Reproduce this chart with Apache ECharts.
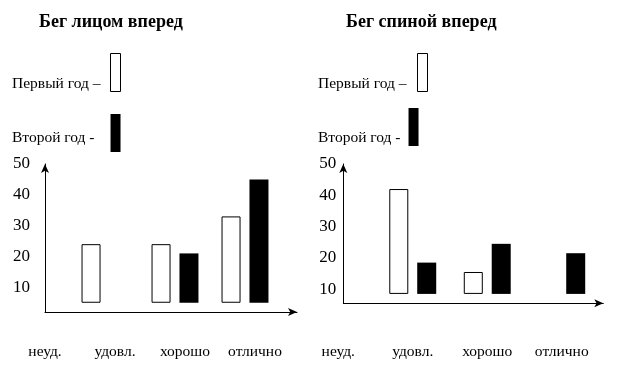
<!DOCTYPE html>
<html>
<head>
<meta charset="utf-8">
<script src="https://cdn.jsdelivr.net/npm/echarts@6/dist/echarts.min.js"></script>
<style>
  html, body { margin: 0; padding: 0; background: #fff; }
  #chart { width: 619px; height: 368px; }
</style>
</head>
<body>
<div id="chart"></div>
<script>
// ---- data ----
const categories = ['неуд.', 'удовл.', 'хорошо', 'отлично'];
const yTickLabels = [10, 20, 30, 40, 50];
const titles = ['Бег лицом вперед', 'Бег спиной вперед'];
const seriesNames = ['Первый год –', 'Второй год -'];
const faceFirstYear = [null, 24, 24, 33];
const faceSecondYear = [null, null, 21, 45];
const backFirstYear = [null, 42, 15.5, null];
const backSecondYear = [null, 18.5, 24.5, 21.5];
const faceBarBase = 5;
const backBarBase = 8.5;

// ---- layout / style ----
const SERIF = "'Times New Roman', 'Liberation Serif', serif";
const panels = [
  { first: faceFirstYear, second: faceSecondYear, base: faceBarBase,
    barGrid: { left: 0, width: 280, top: 164, bottom: 56 },
    axisGrid: { left: 45, width: 252, top: 164, bottom: 56 },
    yMin: 2, yLabelMargin: 15, xLabelMargin: 32, xLabelPad: [0, 0, 0, 20],
    title: { left: 39, top: 13 },
    legends: [ { left: 12, top: 53, pad: [23, 5, 0, 0] }, { left: 12, top: 114, pad: [10, 11, 0, 0] } ] },
  { first: backFirstYear, second: backSecondYear, base: backBarBase,
    barGrid: { left: 301, width: 298, top: 164, bottom: 64.7 },
    axisGrid: { left: 343.3, width: 260, top: 164, bottom: 64.7 },
    yMin: 5.5, yLabelMargin: 7, xLabelMargin: 40.5, xLabelPad: [0, 0, 0, 0],
    title: { left: 346, top: 13 },
    legends: [ { left: 318, top: 53, pad: [22, 6, 0, 0] }, { left: 318, top: 108, pad: [22, 3, 0, 0] } ] }
];

const grid = [], xAxis = [], yAxis = [], series = [], legend = [], title = [];
const whiteStyle = { color: '#fff', borderColor: '#000', borderWidth: 1 };
const blackStyle = { color: '#000' };

panels.forEach((p, i) => {
  const gA = i * 2, gB = i * 2 + 1;
  const base = p.base;
  grid.push(p.barGrid, p.axisGrid);
  xAxis.push({
    gridIndex: gA, type: 'category', data: categories,
    axisLine: { show: false }, axisTick: { show: false },
    axisLabel: { margin: p.xLabelMargin, color: '#000', fontFamily: SERIF, fontSize: 15.5, padding: p.xLabelPad }
  });
  yAxis.push({ gridIndex: gA, type: 'value', min: p.yMin, max: 50, show: false, splitLine: { show: false } });
  xAxis.push({
    gridIndex: gB, type: 'value', min: 0, max: 1,
    axisLine: { show: true, lineStyle: { color: '#000', width: 1 }, symbol: ['none', 'arrow'], symbolSize: [6, 9] },
    axisTick: { show: false }, axisLabel: { show: false }, splitLine: { show: false }
  });
  yAxis.push({
    gridIndex: gB, type: 'value', min: p.yMin, max: 50,
    axisLine: { show: true, lineStyle: { color: '#000', width: 1 }, symbol: ['none', 'arrow'], symbolSize: [6, 9] },
    axisTick: { show: false }, splitLine: { show: false },
    axisLabel: { customValues: yTickLabels, margin: p.yLabelMargin, color: '#000', fontFamily: SERIF, fontSize: 17 }
  });
  const mk = (vals, name, style, stack) => {
    series.push({
      type: 'bar', name: '_base', xAxisIndex: gA, yAxisIndex: gA, stack: stack, silent: true,
      barWidth: 19, barGap: '47%',
      itemStyle: { color: 'transparent' },
      data: vals.map(v => v == null ? null : base)
    });
    series.push({
      type: 'bar', name: name, xAxisIndex: gA, yAxisIndex: gA, stack: stack,
      barWidth: 19, barGap: '47%',
      itemStyle: style,
      data: vals.map(v => v == null ? null : +(v - base).toFixed(3))
    });
  };
  mk(p.first, seriesNames[0], whiteStyle, 'f' + i);
  mk(p.second, seriesNames[1], blackStyle, 's' + i);
  title.push({ text: titles[i], left: p.title.left, top: p.title.top, padding: 0,
    textStyle: { fontFamily: SERIF, fontWeight: 'bold', fontSize: 18, color: '#000' } });
  p.legends.forEach((L, k) => {
    legend.push({
      data: [seriesNames[k]], left: L.left, top: L.top, padding: 0, orient: 'vertical', align: 'right',
      icon: 'rect', itemWidth: 10, itemHeight: 38, selectedMode: false,
      itemStyle: k === 0 ? { color: '#fff', borderColor: '#000', borderWidth: 1 } : { color: '#000', borderWidth: 0 },
      formatter: '{t|{name}}',
      textStyle: { fontFamily: SERIF, fontSize: 15.5, color: '#000',
        rich: { t: { fontFamily: SERIF, fontSize: 15.5, color: '#000', padding: L.pad } } }
    });
  });
});

const chart = echarts.init(document.getElementById('chart'), null, { renderer: 'canvas' });
chart.setOption({ animation: false, backgroundColor: '#fff', title, legend, grid, xAxis, yAxis, series });
</script>
</body>
</html>
